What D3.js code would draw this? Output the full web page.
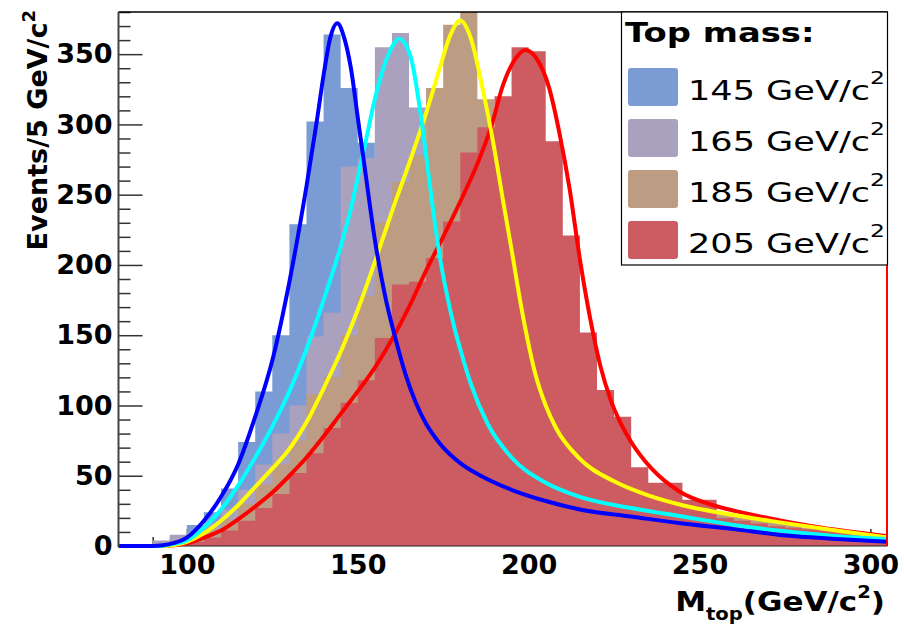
<!DOCTYPE html>
<html>
<head>
<meta charset="utf-8">
<script src="https://cdn.jsdelivr.net/npm/d3@7"></script>
<style>
body { margin: 0; background: #fff; }
svg { display: block; }
.axis text { font-family: "DejaVu Sans"; font-weight: bold; font-size: 27px; fill: #000; }
</style>
</head>
<body>
<svg width="904" height="625"></svg>
<script>
// bin low edges, 5 GeV wide
const bins = [80, 85, 90, 95, 100, 105, 110, 115, 120, 125, 130, 135, 140, 145, 150, 155, 160, 165, 170, 175,
              180, 185, 190, 195, 200, 205, 210, 215, 220, 225, 230, 235, 240, 245, 250, 255, 260, 265, 270, 275,
              280, 285, 290, 295, 300];

const h145 = [0, 0, 1, 6, 15, 24, 41, 74, 110, 150, 229, 302, 364, 326, 287, 212, 160, 112, 88, 68,
              60, 50, 45, 40, 35, 31, 28, 26, 24, 22, 21, 18, 17, 15, 14, 13, 11, 10, 9, 8, 7, 6, 5, 4, 3];
const h165 = [0, 0, 4, 8, 10, 16, 26, 40, 58, 80, 100, 149, 166, 270, 276, 355, 365, 312, 242, 185,
              140, 105, 78, 62, 52, 45, 39, 35, 31, 28, 26, 23, 21, 19, 17, 15, 14, 12, 11, 10, 9, 8, 7, 6, 5];
const h185 = [0, 0, 1, 4, 7, 12, 19, 30, 44, 58, 75, 108, 120, 150, 178, 230, 259, 278, 326, 371,
              395, 318, 272, 212, 150, 108, 80, 64, 52, 45, 40, 35, 31, 28, 25, 23, 21, 19, 17, 15, 13, 12, 11, 9, 8];
const h205 = [0, 0, 0, 1, 3, 6, 11, 18, 27, 37, 52, 66, 84, 102, 118, 148, 186, 188, 205, 231,
              280, 298, 320, 355, 352, 288, 221, 152, 111, 92, 56, 45, 45, 33, 33, 20, 18, 16, 14, 13, 12, 11, 10, 9, 8];

// fitted curves: [mass, events]
const f145 = [[80, 0], [90, 0], [93, 0.5], [96, 2], [100, 6], [105, 18], [110, 35], [115, 58], [120, 92], [125, 132],
              [130, 188], [135, 256], [138, 302], [140, 335], [142, 362], [144, 372], [146, 362], [148, 340], [150, 305],
              [152, 270], [155, 218], [158, 178], [161, 148], [164, 122], [167, 102], [170, 87], [174, 73], [180, 59],
              [186, 50], [195, 40], [205, 32], [215, 26], [230, 21], [245, 16], [260, 12], [273, 8], [290, 5], [305, 3]];
const f165 = [[80, 0], [92, 0], [96, 1.5], [100, 4], [105, 13], [110, 26], [115, 43], [120, 63], [125, 85], [130, 110],
              [135, 140], [140, 175], [145, 213], [148, 240], [150, 262], [152, 284], [155, 318], [157.5, 340],
              [160, 355], [162, 361], [164, 357], [166, 343], [168, 314], [170, 278], [172, 240], [174, 206],
              [176, 180], [178, 158], [180, 140], [183, 116], [188, 87], [195, 63], [205, 45], [215, 35], [230, 27],
              [245, 21], [260, 15], [273, 11], [290, 7], [305, 5]];
const f185 = [[80, 0], [94, 0], [97, 1], [100, 3], [105, 9], [110, 18], [115, 29], [120, 42], [125, 55], [130, 69],
              [135, 88], [140, 112], [145, 138], [150, 168], [155, 202], [160, 238], [165, 272], [170, 308], [174, 340],
              [177, 363], [180, 374], [183, 362], [186.5, 326], [189.5, 289], [192.5, 246], [195, 211], [198, 168],
              [202, 122], [205, 100], [208, 84], [215, 62], [225, 46], [235, 36], [245, 29], [260, 22], [273, 17],
              [290, 11], [305, 6]];
const f205 = [[80, 0], [94, 0], [97, 0.8], [100, 2], [105, 6], [110, 11], [115, 19], [120, 28], [125, 38], [130, 50],
              [135, 63], [140, 78], [145, 94], [150, 110], [155, 127], [160, 147], [165, 170], [170, 196], [175, 220],
              [180, 245], [185, 272], [189, 298], [192.5, 328], [196.5, 348], [199, 353], [202, 348], [206, 326],
              [209, 294], [212, 254], [215, 204], [218, 162], [221, 128], [224, 104], [227, 87], [230, 74], [236, 55],
              [244, 39], [254, 29], [264, 23], [283, 14], [305, 7]];

const masses = ["145", "165", "185", "205"];
const fills = ["#7b9bd5", "#aaa1be", "#bc9c82", "#cd5c62"];
const lineColors = ["#0000ff", "#00ffff", "#ffff00", "#ff0000"];
const hists = [h145, h165, h185, h205];
const fits = [f145, f165, f185, f205];

const yMajor = [0, 50, 100, 150, 200, 250, 300, 350];
const yMinor = [10, 20, 30, 40, 60, 70, 80, 90, 110, 120, 130, 140, 160, 170, 180, 190, 210, 220, 230, 240,
                260, 270, 280, 290, 310, 320, 330, 340, 360, 370, 380];
const xMajor = [100, 150, 200, 250, 300];
const xMinor = [90, 110, 120, 130, 140, 160, 170, 180, 190, 210, 220, 230, 240, 260, 270, 280, 290];

const svg = d3.select("svg");
const x = d3.scaleLinear().domain([80, 305]).range([118.5, 887.5]);
const y = d3.scaleLinear().domain([0, 380]).range([546, 12]);

svg.append("clipPath").attr("id", "plot")
  .append("rect").attr("x", 118.5).attr("y", 12).attr("width", 769).attr("height", 537);
svg.append("clipPath").attr("id", "hplot")
  .append("rect").attr("x", 118.5).attr("y", 12).attr("width", 769).attr("height", 534);

// ticks first, histograms cover them
function axisGroup(axis, transform) {
    const g = svg.append("g").attr("class", "axis").attr("transform", transform)
        .attr("color", "#333").call(axis);
    g.select(".domain").remove();
    g.selectAll("line").attr("stroke-width", 1.5);
    return g;
}
axisGroup(d3.axisLeft(y).tickValues(yMinor).tickSize(-12).tickFormat(""), "translate(118.5,0)");
axisGroup(d3.axisLeft(y).tickValues(yMajor).tickSize(-24).tickPadding(6), "translate(118.5,0)");
axisGroup(d3.axisBottom(x).tickValues(xMinor).tickSize(-9).tickFormat(""), "translate(0,546)");
axisGroup(d3.axisBottom(x).tickValues(xMajor).tickSize(-17).tickPadding(9), "translate(0,546)");

const area = d3.area()
    .x(d => x(d[0]))
    .y0(y(0))
    .y1(d => y(d[1]))
    .curve(d3.curveStepAfter);

const hg = svg.append("g").attr("clip-path", "url(#hplot)");
hists.forEach((h, k) => {
    const pts = bins.map((b, i) => [b, h[i]]);
    pts.push([305, h[h.length - 1]]);
    hg.append("path").attr("d", area(pts)).attr("fill", fills[k]);
});

svg.append("line").attr("x1", 118.5).attr("x2", 887.5).attr("y1", 546).attr("y2", 546)
   .attr("stroke", "#222").attr("stroke-width", 1);

const line = d3.line()
    .x(d => x(d[0]))
    .y(d => y(d[1]))
    .curve(d3.curveMonotoneX);

const cg = svg.append("g").attr("clip-path", "url(#plot)");
[3, 2, 1, 0].forEach(k => {
    cg.append("path").attr("d", line(fits[k]))
      .attr("fill", "none").attr("stroke", lineColors[k]).attr("stroke-width", 4)
      .attr("stroke-linejoin", "round");
});

// frame
svg.append("line").attr("x1", 118.5).attr("x2", 887.5).attr("y1", 12).attr("y2", 12)
   .attr("stroke", "#000").attr("stroke-width", 1.5);
svg.append("line").attr("x1", 118.5).attr("x2", 118.5).attr("y1", 12).attr("y2", 547)
   .attr("stroke", "#444").attr("stroke-width", 2);
svg.append("line").attr("x1", 887).attr("x2", 887).attr("y1", 12).attr("y2", 546)
   .attr("stroke", "#ff0000").attr("stroke-width", 2);

// y title
const yt = svg.append("text")
    .attr("transform", "translate(47,10) rotate(-90)")
    .attr("text-anchor", "end")
    .attr("font-family", "DejaVu Sans").attr("font-weight", "bold").attr("font-size", 27);
yt.append("tspan").text("Events/5 GeV/c");
yt.append("tspan").attr("font-size", 18).attr("dy", -12).text("2");

// x title
const xt = svg.append("text")
    .attr("transform", "translate(885,611) scale(1.15,1)")
    .attr("text-anchor", "end")
    .attr("font-family", "DejaVu Sans").attr("font-weight", "bold").attr("font-size", 27);
xt.append("tspan").text("M");
xt.append("tspan").attr("font-size", 17).attr("dy", 9).text("top");
xt.append("tspan").attr("dy", -9).text("(GeV/c");
xt.append("tspan").attr("font-size", 17).attr("dy", -13).text("2");
xt.append("tspan").attr("dy", 13).text(")");

// legend
const lg = svg.append("g");
lg.append("rect").attr("x", 621.5).attr("y", 12).attr("width", 266).attr("height", 253)
  .attr("fill", "#fff").attr("stroke", "#000").attr("stroke-width", 1.2);
lg.append("text").attr("transform", "translate(625,42) scale(1.3,1)")
  .attr("font-family", "DejaVu Sans").attr("font-weight", "bold").attr("font-size", 26)
  .text("Top mass:");
masses.forEach((m, k) => {
    const cy = 87 + k * 51;
    lg.append("rect").attr("x", 628).attr("y", cy - 19).attr("width", 50).attr("height", 38)
      .attr("rx", 3).attr("fill", fills[k]);
    const t = lg.append("text").attr("transform", `translate(688,${cy + 13}) scale(1.3,1)`)
      .attr("font-family", "DejaVu Sans").attr("font-size", 27);
    t.append("tspan").text(m + " GeV/c");
    t.append("tspan").attr("font-size", 18).attr("dy", -16).text("2");
});
</script>
</body>
</html>
